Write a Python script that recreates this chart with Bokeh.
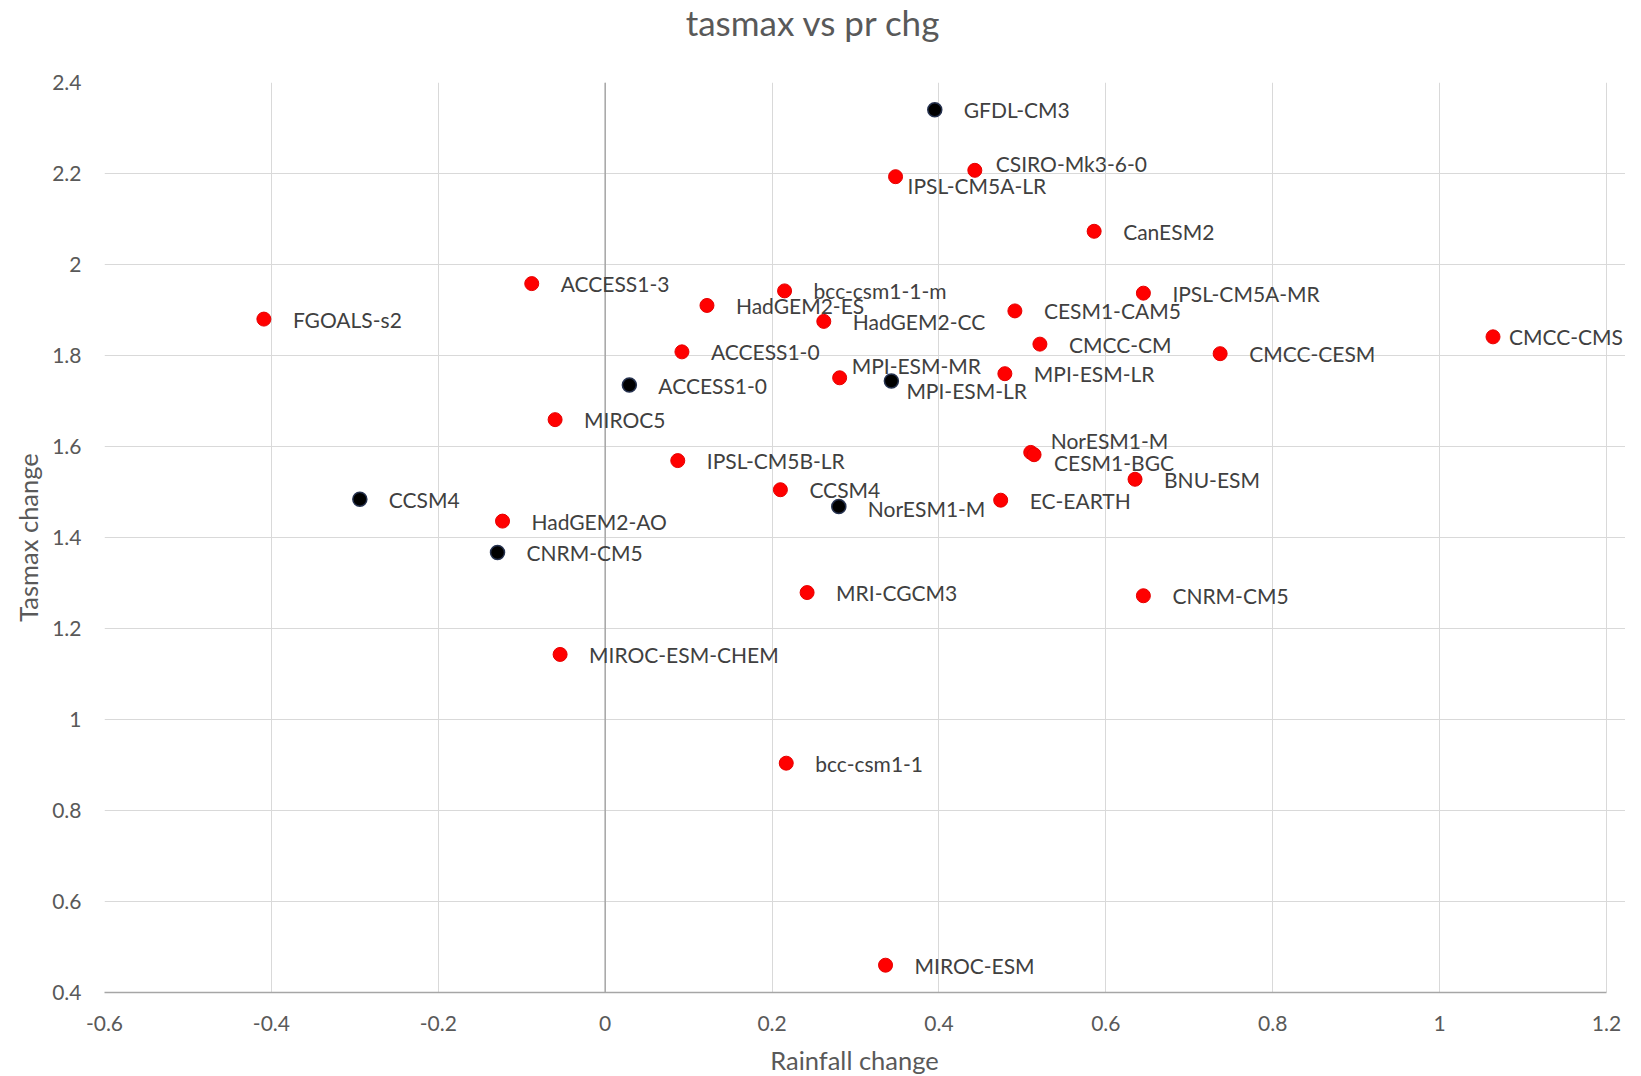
from bokeh.plotting import figure
from bokeh.models import (ColumnDataSource, Span, CustomJSTickFormatter, Range1d,
                          LabelSet, Div)
from bokeh.layouts import column
from bokeh.core.properties import value
from bokeh.embed import file_html
from bokeh.resources import INLINE

# ---- data ----
red_models = ["FGOALS-s2", "ACCESS1-3", "HadGEM2-ES", "bcc-csm1-1-m", "HadGEM2-CC",
              "ACCESS1-0", "MIROC5", "IPSL-CM5B-LR", "CCSM4", "HadGEM2-AO",
              "MRI-CGCM3", "MIROC-ESM-CHEM", "bcc-csm1-1", "MIROC-ESM", "MPI-ESM-MR",
              "IPSL-CM5A-LR", "CSIRO-Mk3-6-0", "CanESM2", "CESM1-CAM5", "IPSL-CM5A-MR",
              "CMCC-CM", "MPI-ESM-LR", "CMCC-CESM", "CMCC-CMS", "NorESM1-M",
              "CESM1-BGC", "BNU-ESM", "EC-EARTH", "CNRM-CM5"]
red_pr = [-0.409, -0.088, 0.122, 0.215, 0.262,
          0.092, -0.060, 0.087, 0.210, -0.123,
          0.242, -0.054, 0.217, 0.336, 0.281,
          0.348, 0.443, 0.586, 0.491, 0.645,
          0.521, 0.479, 0.737, 1.064, 0.510,
          0.514, 0.635, 0.474, 0.645]
red_tas = [1.880, 1.958, 1.910, 1.942, 1.875,
           1.808, 1.659, 1.569, 1.505, 1.436,
           1.279, 1.143, 0.904, 0.460, 1.751,
           2.193, 2.207, 2.073, 1.898, 1.937,
           1.825, 1.760, 1.804, 1.841, 1.587,
           1.582, 1.528, 1.482, 1.272]

black_models = ["GFDL-CM3", "ACCESS1-0", "MPI-ESM-LR", "CCSM4", "CNRM-CM5", "NorESM1-M"]
black_pr = [0.395, 0.029, 0.343, -0.294, -0.129, 0.280]
black_tas = [2.340, 1.735, 1.744, 1.484, 1.367, 1.468]

x_ticks = [-0.6, -0.4, -0.2, 0, 0.2, 0.4, 0.6, 0.8, 1.0, 1.2]
y_ticks = [0.4, 0.6, 0.8, 1.0, 1.2, 1.4, 1.6, 1.8, 2.0, 2.2, 2.4]
x_min, x_max = -0.6, 1.2
y_min, y_max = 0.4, 2.4

title_text = "tasmax vs pr chg"
x_label = "Rainfall change"
y_label = "Tasmax change"

# ---- label placement (screen px; dx right, dy down), default right of marker ----
DEFAULT_OFF = (29, 0)
red_label_off = {
    "IPSL-CM5A-LR": (12, 9),
    "CSIRO-Mk3-6-0": (21, -7),
    "MPI-ESM-MR": (12, -12),
    "NorESM1-M": (20, -12),
    "CESM1-BGC": (20, 8),
    "CMCC-CMS": (16, 0),
}
black_label_off = {
    "MPI-ESM-LR": (15, 10),
    "NorESM1-M": (29, 2),
}

FONT = "Lato"
TXT = "#404040"
AX = "#595959"

# layout (px)
W = 1625
TITLE_H = 46
FIG_H = 984
XLAB_H = 1060 - TITLE_H - FIG_H
LEFT = 104
PLOT_W = 1502            # width of the -0.6 .. 1.2 area
FRAME_W = W - LEFT       # frame extends a little past 1.2 so labels are not clipped
x_end = x_min + (x_max - x_min) * FRAME_W / PLOT_W

title = Div(text=title_text, width=W, height=TITLE_H,
            styles={"font-family": FONT, "font-size": "35px", "color": AX,
                    "text-align": "center", "line-height": "34px",
                    "position": "relative", "left": "-5px"})
xlab = Div(text=x_label, width=W, height=XLAB_H,
           styles={"font-family": FONT, "font-size": "25.5px", "color": AX,
                   "text-align": "center", "line-height": "30px",
                   "position": "relative", "left": "37px", "top": "0px"})

p = figure(width=W, height=FIG_H, output_backend="svg", toolbar_location=None,
           x_range=Range1d(x_min, x_end), y_range=Range1d(y_min, y_max),
           min_border_left=LEFT, min_border_right=0, min_border_top=26, min_border_bottom=48)
p.background_fill_color = "white"
p.border_fill_color = "white"
p.outline_line_color = None

fmt = CustomJSTickFormatter(code="return Number(tick.toFixed(1)).toString();")
p.xaxis.ticker = x_ticks
p.yaxis.ticker = y_ticks
p.xaxis.formatter = fmt
p.yaxis.formatter = fmt
for ax in (p.xaxis, p.yaxis):
    ax.major_tick_line_color = None
    ax.minor_tick_line_color = None
    ax.major_tick_out = 0
    ax.major_tick_in = 0
    ax.minor_tick_out = 0
    ax.minor_tick_in = 0
    ax.major_label_text_font = FONT
    ax.major_label_text_font_size = "21px"
    ax.major_label_text_color = AX
    ax.axis_label_text_font = FONT
    ax.axis_label_text_font_size = "25.5px"
    ax.axis_label_text_font_style = "normal"
    ax.axis_label_text_color = AX
p.yaxis.axis_label = y_label
p.xaxis.bounds = (x_min, x_max)
p.xaxis.axis_line_color = "#a6a6a6"
p.xaxis.axis_line_width = 1.5
p.yaxis.axis_line_color = None
p.xaxis.major_label_standoff = 23
p.yaxis.major_label_standoff = 23
p.yaxis.axis_label_standoff = 6

p.xgrid.grid_line_color = "#d9d9d9"
p.ygrid.grid_line_color = "#d9d9d9"
p.ygrid.bounds = (x_min, x_max)

p.add_layout(Span(location=0, dimension="height", line_color="#a6a6a6", line_width=1.5))

def offsets(names, table):
    dx = [table.get(n, DEFAULT_OFF)[0] for n in names]
    dy = [-table.get(n, DEFAULT_OFF)[1] for n in names]  # LabelSet: +y is up
    return dx, dy

rdx, rdy = offsets(red_models, red_label_off)
bdx, bdy = offsets(black_models, black_label_off)
red_src = ColumnDataSource(dict(x=red_pr, y=red_tas, name=red_models, dx=rdx, dy=rdy))
black_src = ColumnDataSource(dict(x=black_pr, y=black_tas, name=black_models, dx=bdx, dy=bdy))

p.scatter("x", "y", source=red_src, marker="circle", size=14,
          fill_color="#ff0000", line_color="#e60000", line_width=1)
p.scatter("x", "y", source=black_src, marker="circle", size=14,
          fill_color="#000000", line_color="#26324f", line_width=1.5)

for src in (red_src, black_src):
    p.add_layout(LabelSet(x="x", y="y", text="name", source=src, x_offset="dx", y_offset="dy",
                          text_font=value(FONT), text_font_size="21px", text_color=TXT,
                          text_baseline="middle", text_align="left"))

layout = column(title, p, xlab, spacing=0)
open("out.html", "w").write(file_html(layout, INLINE))
